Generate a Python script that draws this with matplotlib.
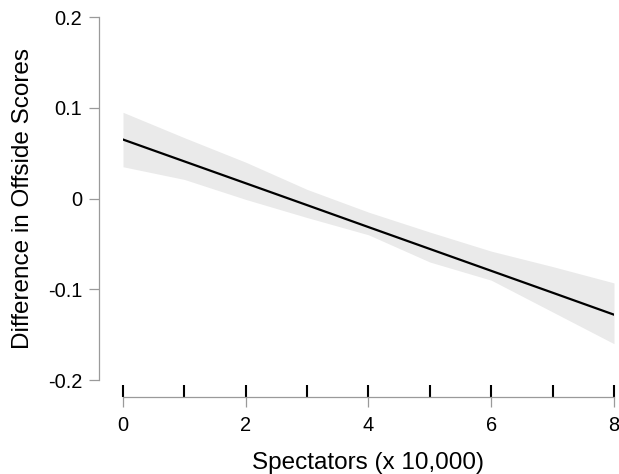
import matplotlib.pyplot as plt
from matplotlib.ticker import MultipleLocator

plt.rcParams['font.family'] = ['Liberation Sans', 'DejaVu Sans']

# spectators (x 10,000)
spectators = [0, 1, 2, 3, 4, 5, 6, 7, 8]
fit = [0.065, 0.0409, 0.0168, -0.0073, -0.0315, -0.0556, -0.0797, -0.1038, -0.128]
upper = [0.095, 0.067, 0.040, 0.010, -0.015, -0.037, -0.058, -0.075, -0.093]
lower = [0.035, 0.021, -0.001, -0.021, -0.040, -0.070, -0.090, -0.125, -0.160]

y_ticks = [0.2, 0.1, 0, -0.1, -0.2]
y_labels = ['0.2', '0.1', '0', '-0.1', '-0.2']
x_ticks = [0, 2, 4, 6, 8]

fig = plt.figure(figsize=(6.19, 4.74), dpi=100)
ax = fig.add_axes([0.1987, 0.1983, 0.7932, 0.7658])

ax.fill_between(spectators, lower, upper, color='#eaeaea', linewidth=0)
ax.plot(spectators, fit, color='black', linewidth=1.6)

ax.set_xlim(0, 8)
ax.set_ylim(-0.2, 0.2)

ax.spines['top'].set_visible(False)
ax.spines['right'].set_visible(False)
ax.spines['left'].set_position(('outward', 17.3))
ax.spines['bottom'].set_position(('outward', 12.2))
for s in ['left', 'bottom']:
    ax.spines[s].set_color('#9a9a9a')
    ax.spines[s].set_linewidth(0.9)

ax.set_yticks(y_ticks)
ax.set_yticklabels(y_labels)
ax.set_xticks(x_ticks)
ax.xaxis.set_minor_locator(MultipleLocator(1))
ax.xaxis.remove_overlapping_locs = False

ax.tick_params(axis='y', direction='out', length=7.2, width=0.9, color='#9a9a9a',
               labelsize=14.4, pad=5)
ax.tick_params(axis='x', which='major', direction='out', length=7.2, width=0.9,
               color='#9a9a9a', labelsize=14.4, pad=6.5)
ax.tick_params(axis='x', which='minor', direction='in', length=8.5, width=1.5,
               color='black')

ax.set_xlabel('Spectators (x 10,000)', fontsize=17.5, labelpad=12.5)
ax.set_ylabel('Difference in Offside Scores', fontsize=17.5, labelpad=10)

fig.savefig('out.png', dpi=100)
